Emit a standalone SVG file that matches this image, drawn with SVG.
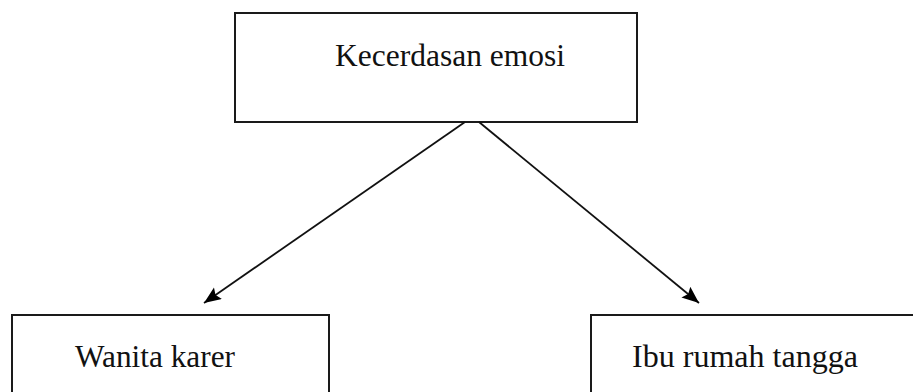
<svg xmlns="http://www.w3.org/2000/svg" width="913" height="392" viewBox="0 0 913 392">
<style>
.box{fill:#fff;stroke:#1a1a1a;stroke-width:2}
.lbl{font-family:"Liberation Serif","Times New Roman",serif;font-size:31px;fill:#111}
.edge{stroke:#111;stroke-width:1.8;fill:none}
</style>
<defs>
<marker id="arr" markerUnits="userSpaceOnUse" markerWidth="20" markerHeight="16" refX="17" refY="7" orient="auto">
<path d="M0,0 L17,7 L0,14 L3,7 Z" fill="#000"/>
</marker>
</defs>
<rect width="913" height="392" fill="#fff"/>
<g id="node-kecerdasan">
<rect class="box" x="235" y="13" width="402" height="109"/>
<text class="lbl" x="335" y="66" textLength="230" lengthAdjust="spacingAndGlyphs">Kecerdasan emosi</text>
</g>
<g id="node-wanita">
<rect class="box" x="12" y="315" width="317" height="90"/>
<text class="lbl" x="75" y="367" textLength="160" lengthAdjust="spacingAndGlyphs">Wanita karer</text>
</g>
<g id="node-ibu">
<rect class="box" x="591" y="315" width="340" height="90"/>
<text class="lbl" x="632" y="367" textLength="226" lengthAdjust="spacingAndGlyphs">Ibu rumah tangga</text>
</g>
<g id="connectors">
<line class="edge" x1="465" y1="122" x2="204" y2="303" marker-end="url(#arr)"/>
<line class="edge" x1="479" y1="122" x2="699" y2="303" marker-end="url(#arr)"/>
</g>
</svg>
